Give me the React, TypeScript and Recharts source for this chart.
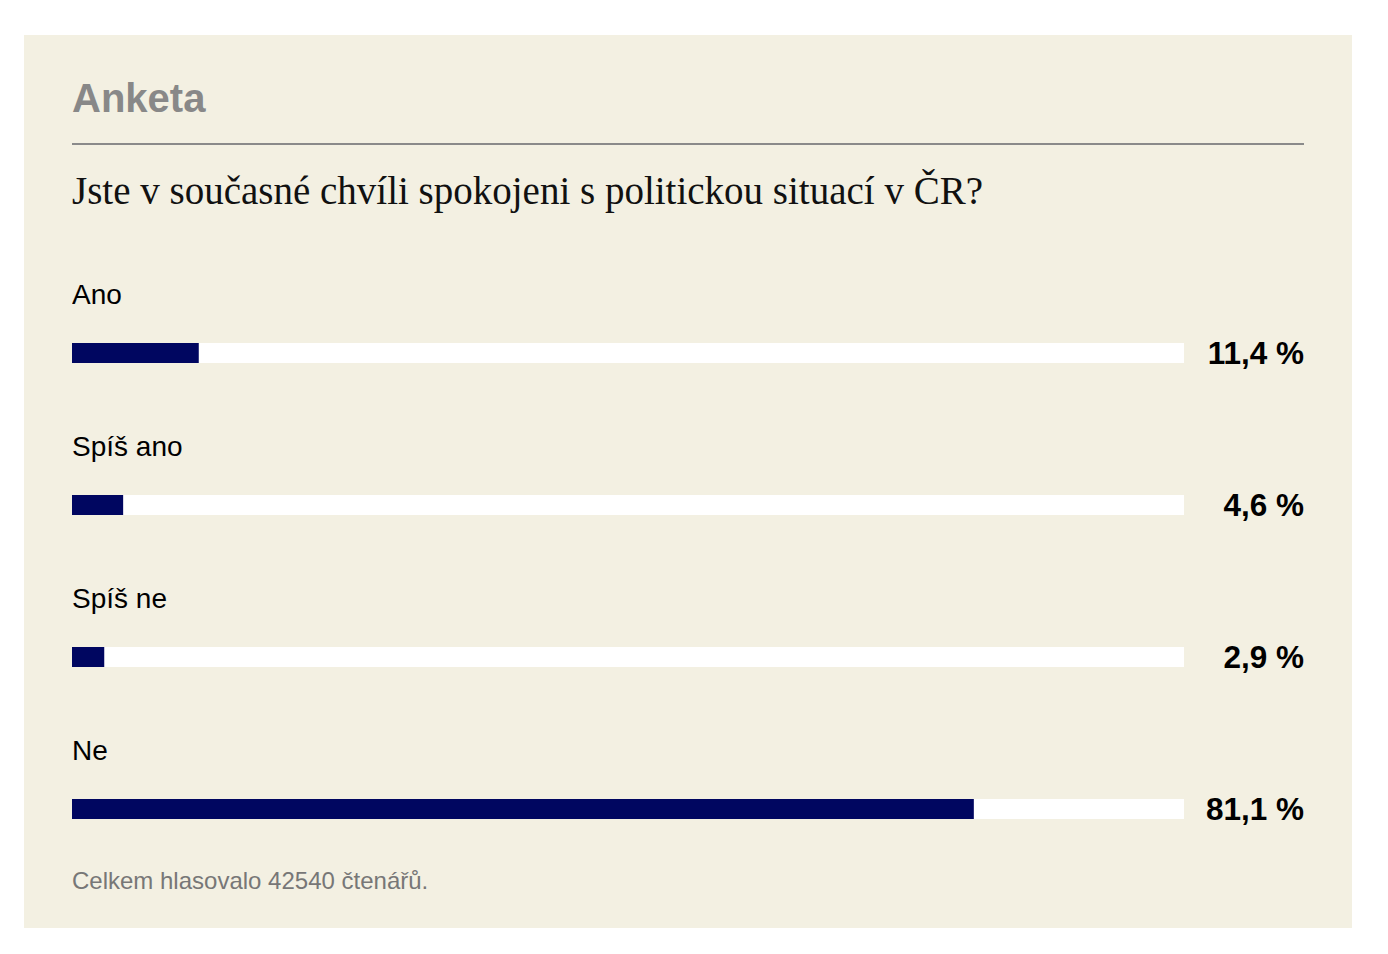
import { BarChart, Bar, XAxis, YAxis, LabelList } from "recharts";

const categories = ["Ano", "Spíš ano", "Spíš ne", "Ne"];
const percents = [11.4, 4.6, 2.9, 81.1];
const totalVotes = 42540;

const TITLE = "Anketa";
const QUESTION = "Jste v současné chvíli spokojeni s politickou situací v ČR?";

const SANS = '"Liberation Sans", Arial, sans-serif';
const SERIF = '"Liberation Serif", "DejaVu Serif", serif';
const BAR_COLOR = "#000660";

const CHART_W = 1232;
const CHART_H = 608;
const VALUE_GAP = 120;

const fmt = (v: number) => `${v.toFixed(1).replace(".", ",")} %`;

const NameLabel = (props: any) => {
  const vb = props.viewBox ?? props;
  const x = props.x ?? vb.x;
  const y = props.y ?? vb.y;
  return (
    <text x={x} y={y - 39} fill="#000" fontFamily={SANS} fontSize={28}>
      {props.value}
    </text>
  );
};

const ValueLabel = (props: any) => {
  const vb = props.viewBox ?? props;
  const y = props.y ?? vb.y;
  const h = props.height ?? vb.height ?? 20;
  return (
    <text
      x={CHART_W}
      y={y + h / 2}
      dy="0.36em"
      textAnchor="end"
      fill="#000"
      fontFamily={SANS}
      fontWeight="bold"
      fontSize={31.5}
    >
      {fmt(Number(props.value))}
    </text>
  );
};

export default function App() {
  const data = categories.map((name, i) => ({ name, value: percents[i] }));

  return (
    <div style={{ position: "absolute", left: 0, top: 0, width: 1388, height: 954, background: "#fff" }}>
      <div style={{ position: "absolute", left: 24, top: 35, width: 1328, height: 893, background: "#f3f0e2" }}>
        <div
          style={{
            position: "absolute",
            left: 48,
            top: 41,
            fontFamily: SANS,
            fontWeight: "bold",
            fontSize: 40,
            color: "#888",
            whiteSpace: "nowrap",
          }}
        >
          {TITLE}
        </div>
        <div style={{ position: "absolute", left: 48, top: 108, width: 1232, height: 2, background: "#8a8a8a" }} />
        <div
          style={{
            position: "absolute",
            left: 48,
            top: 133,
            fontFamily: SERIF,
            fontSize: 39,
            color: "#111",
            whiteSpace: "nowrap",
          }}
        >
          {QUESTION}
        </div>

        <div style={{ position: "absolute", left: 48, top: 242 }}>
          <BarChart
            width={CHART_W}
            height={CHART_H}
            data={data}
            layout="vertical"
            margin={{ top: 0, right: VALUE_GAP, bottom: 0, left: 0 }}
            barCategoryGap={0}
          >
            <XAxis type="number" domain={[0, 100]} hide />
            <YAxis type="category" dataKey="name" hide />
            <Bar
              dataKey="value"
              fill={BAR_COLOR}
              barSize={20}
              background={{ fill: "#fff" }}
              isAnimationActive={false}
            >
              <LabelList dataKey="name" content={NameLabel} />
              <LabelList dataKey="value" content={ValueLabel} />
            </Bar>
          </BarChart>
        </div>

        <div
          style={{
            position: "absolute",
            left: 48,
            top: 832,
            fontFamily: SANS,
            fontSize: 24,
            color: "#777",
            whiteSpace: "nowrap",
          }}
        >
          Celkem hlasovalo {totalVotes} čtenářů.
        </div>
      </div>
    </div>
  );
}
